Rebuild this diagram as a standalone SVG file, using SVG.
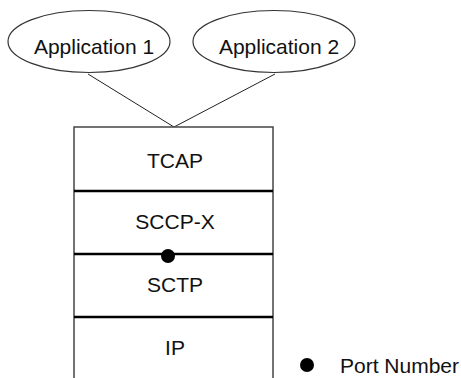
<svg xmlns="http://www.w3.org/2000/svg" width="461" height="378" viewBox="0 0 461 378">
<style>
.t{font-family:"Liberation Sans",Arial,sans-serif;font-size:21px;fill:#111;text-anchor:middle}
.e{fill:none;stroke:#333;stroke-width:1.2}
.b{fill:#fff;stroke:#444;stroke-width:1.5}
.d{stroke:#000;stroke-width:2.5}
.c{stroke:#222;stroke-width:1;fill:none}
</style>
<rect width="461" height="378" fill="#fff"/>
<g id="connectors">
<line class="c" x1="88" y1="74" x2="174" y2="127"/>
<line class="c" x1="275" y1="74" x2="174" y2="127"/>
</g>
<g id="app1">
<ellipse class="e" cx="89" cy="41.5" rx="81" ry="31"/>
<text class="t" x="94" y="54">Application 1</text>
</g>
<g id="app2">
<ellipse class="e" cx="274" cy="41.5" rx="81" ry="31"/>
<text class="t" x="279" y="54">Application 2</text>
</g>
<g id="stack">
<rect class="b" x="74" y="127" width="199" height="260"/>
</g>
<g id="tcap">
<text class="t" x="175" y="168">TCAP</text>
</g>
<g id="sccpx">
<line class="d" x1="74" y1="191" x2="273" y2="191"/>
<text class="t" x="175" y="229">SCCP-X</text>
</g>
<g id="sctp">
<line class="d" x1="74" y1="254" x2="273" y2="254"/>
<circle cx="168" cy="256" r="7" fill="#000"/>
<text class="t" x="175" y="292">SCTP</text>
</g>
<g id="ip">
<line class="d" x1="74" y1="317" x2="273" y2="317"/>
<text class="t" x="175" y="355">IP</text>
</g>
<g id="legend">
<circle cx="307" cy="365" r="7" fill="#000"/>
<text class="t" x="340" y="373" style="text-anchor:start">Port Number</text>
</g>
</svg>
